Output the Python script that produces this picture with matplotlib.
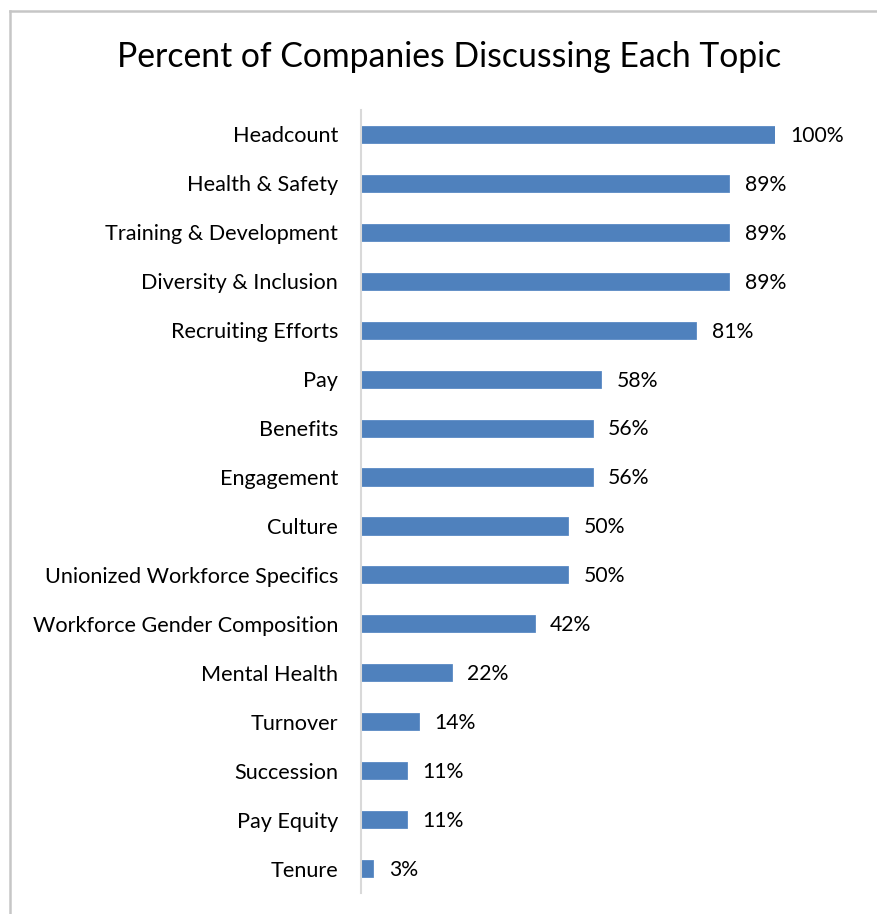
import matplotlib.pyplot as plt
from matplotlib.lines import Line2D

topics = ['Headcount', 'Health & Safety', 'Training & Development',
          'Diversity & Inclusion', 'Recruiting Efforts', 'Pay', 'Benefits',
          'Engagement', 'Culture', 'Unionized Workforce Specifics',
          'Workforce Gender Composition', 'Mental Health', 'Turnover',
          'Succession', 'Pay Equity', 'Tenure']
percent = [100, 89, 89, 89, 81, 58, 56, 56, 50, 50, 42, 22, 14, 11, 11, 3]

plt.rcParams['font.family'] = ['Lato', 'DejaVu Sans']

W, H = 877, 914
fig = plt.figure(figsize=(W / 100, H / 100), dpi=100)

# axes placed in pixel terms: axis line at x=361, 100% at x=775
left, right, top, bottom = 361, 775, 110, 893
ax = fig.add_axes([left / W, 1 - bottom / H, (right - left) / W, (bottom - top) / H])

ypos = list(range(len(topics)))
ax.barh(ypos, percent, height=0.35, color='#4F81BD', edgecolor='#5a8ac4', linewidth=0.6)
ax.set_ylim(len(topics) - 0.5, -0.5)
ax.set_xlim(0, 100)
ax.set_yticks(ypos)
ax.set_yticklabels(topics, fontsize=15.6, color='black')
ax.set_xticks([])
ax.tick_params(axis='y', length=0, pad=16.5)

for y, v in zip(ypos, percent):
    ax.annotate('{}%'.format(v), (v, y), xytext=(11, -1), textcoords='offset points',
                va='center', ha='left', fontsize=15.2, clip_on=False)

for s in ['top', 'right', 'bottom']:
    ax.spines[s].set_visible(False)
ax.spines['left'].set_color('#d9d9d9')
ax.spines['left'].set_linewidth(1.5)

fig.text(449 / W, 1 - 57 / H, 'Percent of Companies Discussing Each Topic',
         ha='center', va='center', fontsize=24.3)

# chart border (cropped at right and bottom)
fig.add_artist(Line2D([10 / W, 1], [1 - 11 / H, 1 - 11 / H], color='#c6c6c6', lw=1.8))
fig.add_artist(Line2D([10 / W, 10 / W], [0, 1 - 11 / H], color='#c6c6c6', lw=1.8))

fig.savefig('out.png', dpi=100)
